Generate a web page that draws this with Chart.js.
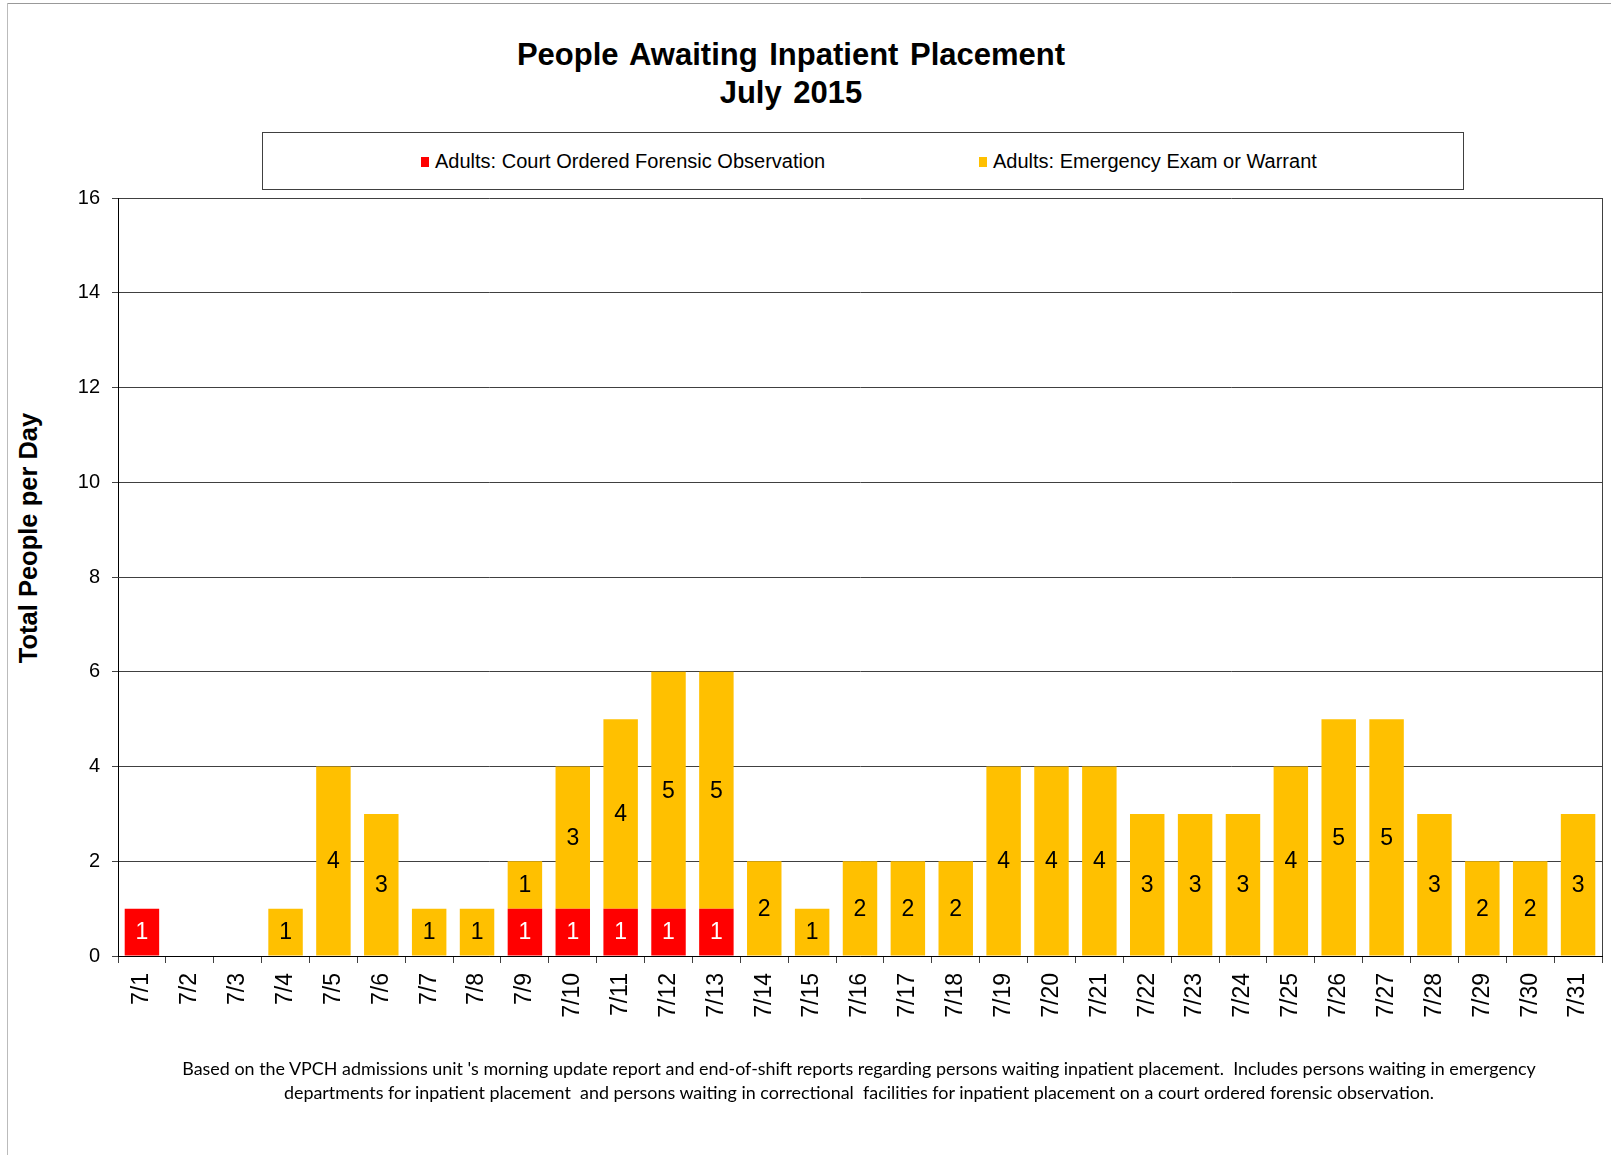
<!DOCTYPE html>
<html>
<head>
<meta charset="utf-8">
<script src="https://cdn.jsdelivr.net/npm/chart.js@4.4.0/dist/chart.umd.min.js"></script>
<style>
html,body{margin:0;padding:0;background:#fff;}
body{width:1611px;height:1155px;position:relative;overflow:hidden;font-family:"Liberation Sans",Arial,sans-serif;color:#000;}
#frameTop{position:absolute;left:7px;top:3px;width:1604px;height:0;border-top:1px solid #999;}
#frameLeft{position:absolute;left:7px;top:3px;width:0;height:1152px;border-left:1px solid #bbb;}
#title{position:absolute;left:0;top:36px;width:1582px;text-align:center;font-weight:bold;font-size:31px;line-height:38px;word-spacing:3px;}
#legend{position:absolute;left:262px;top:132px;width:1200px;height:56px;border:1px solid #404040;}
.lg-sw{position:absolute;width:8px;height:10px;top:24px;}
.lg-tx{position:absolute;top:17px;font-size:20px;line-height:22px;white-space:nowrap;}
#ytitle{position:absolute;left:28px;top:538px;transform:translate(-50%,-50%) rotate(-90deg);font-weight:bold;font-size:25.5px;white-space:nowrap;}
#footer{position:absolute;left:0;top:1057px;width:1718px;text-align:center;font-family:Lato,"Liberation Sans",sans-serif;line-height:22.5px;}
#footer span{white-space:pre;}
canvas{position:absolute;left:0;top:0;}
</style>
</head>
<body>
<div id="frameTop"></div>
<div id="frameLeft"></div>
<div id="title">People Awaiting Inpatient Placement<br>July 2015</div>
<div id="legend"></div>
<div id="ytitle">Total People per Day</div>
<canvas id="c" width="1611" height="1155"></canvas>
<div id="footer"><span id="f1">Based on the VPCH admissions unit 's morning update report and end-of-shift reports regarding persons waiting inpatient placement.  Includes persons waiting in emergency</span><br><span id="f2">departments for inpatient placement  and persons waiting in correctional  facilities for inpatient placement on a court ordered forensic observation.</span></div>
<script>
const categories = ['7/1','7/2','7/3','7/4','7/5','7/6','7/7','7/8','7/9','7/10','7/11','7/12','7/13','7/14','7/15','7/16','7/17','7/18','7/19','7/20','7/21','7/22','7/23','7/24','7/25','7/26','7/27','7/28','7/29','7/30','7/31'];
const forensic  = [1,0,0,0,0,0,0,0,1,1,1,1,1,0,0,0,0,0,0,0,0,0,0,0,0,0,0,0,0,0,0];
const emergency = [0,0,0,1,4,3,1,1,1,3,4,5,5,2,1,2,2,2,4,4,4,3,3,3,4,5,5,3,2,2,3];
const seriesNames = ['Adults: Court Ordered Forensic Observation','Adults: Emergency Exam or Warrant'];
const seriesColors = ['#FF0000','#FFC000'];
const labelColors = ['#FFFFFF','#000000'];
const yMin = 0, yMax = 16, yStep = 2;

// legend (HTML)
const legendEl = document.getElementById('legend');
const legendX = [158, 716];
seriesNames.forEach((n,i)=>{
  const sw=document.createElement('div'); sw.className='lg-sw'; sw.style.left=legendX[i]+'px'; sw.style.background=seriesColors[i]; legendEl.appendChild(sw);
  const tx=document.createElement('div'); tx.className='lg-tx'; tx.style.left=(legendX[i]+14)+'px'; tx.textContent=n; legendEl.appendChild(tx);
});

// footer fit
(function(){
  const f1=document.getElementById('f1'), f2=document.getElementById('f2');
  f1.style.fontSize='16px'; f2.style.fontSize='16px';
  const w=f1.getBoundingClientRect().width;
  const fs=16*1354/w;
  f1.style.fontSize=fs+'px'; f2.style.fontSize=fs+'px';
})();

const valueLabels = {
  id:'valueLabels',
  afterDatasetsDraw(chart){
    const ctx=chart.ctx;
    chart.data.datasets.forEach((ds,i)=>{
      const meta=chart.getDatasetMeta(i);
      meta.data.forEach((bar,j)=>{
        const v=ds.data[j];
        if(!v) return;
        ctx.save();
        ctx.fillStyle=labelColors[i];
        ctx.font='23px "Liberation Sans", Arial, sans-serif';
        ctx.textAlign='center';
        ctx.textBaseline='middle';
        ctx.fillText(String(v), bar.x, (bar.y+bar.base)/2+1);
        ctx.restore();
      });
    });
  }
};
const rightBorder = {
  id:'rightBorder',
  afterDraw(chart){
    const a=chart.chartArea, ctx=chart.ctx;
    ctx.save();
    ctx.strokeStyle='#404040'; ctx.lineWidth=1;
    ctx.beginPath(); ctx.moveTo(Math.round(a.right)+0.5,a.top); ctx.lineTo(Math.round(a.right)+0.5,a.bottom); ctx.stroke();
    ctx.restore();
  }
};

new Chart(document.getElementById('c'), {
  type:'bar',
  data:{
    labels:categories,
    datasets:[
      {label:seriesNames[0], data:forensic, backgroundColor:seriesColors[0], borderWidth:0, barPercentage:1, categoryPercentage:0.72},
      {label:seriesNames[1], data:emergency, backgroundColor:seriesColors[1], borderWidth:0, barPercentage:1, categoryPercentage:0.72}
    ]
  },
  options:{
    responsive:false,
    animation:false,
    layout:{padding:{top:198, right:9, bottom:0, left:0}},
    plugins:{legend:{display:false}, tooltip:{enabled:false}, title:{display:false}},
    scales:{
      x:{
        stacked:true,
        grid:{display:true, drawOnChartArea:false, drawTicks:true, tickLength:7, color:'#404040', offset:true},
        border:{display:true, color:'#000', width:1},
        ticks:{minRotation:90, maxRotation:90, autoSkip:false, padding:10, color:'#000', font:{family:'"Liberation Sans", Arial, sans-serif', size:23}},
        afterFit(s){ s.height=199; s.paddingLeft=0; s.paddingRight=0; }
      },
      y:{
        stacked:true, min:yMin, max:yMax,
        ticks:{stepSize:yStep, padding:12, color:'#000', font:{family:'"Liberation Sans", Arial, sans-serif', size:20}},
        grid:{color:'#404040', tickLength:6, lineWidth:1},
        border:{display:true, color:'#000', width:1},
        afterFit(s){ s.width=118; }
      }
    }
  },
  plugins:[valueLabels, rightBorder]
});
</script>
</body>
</html>
